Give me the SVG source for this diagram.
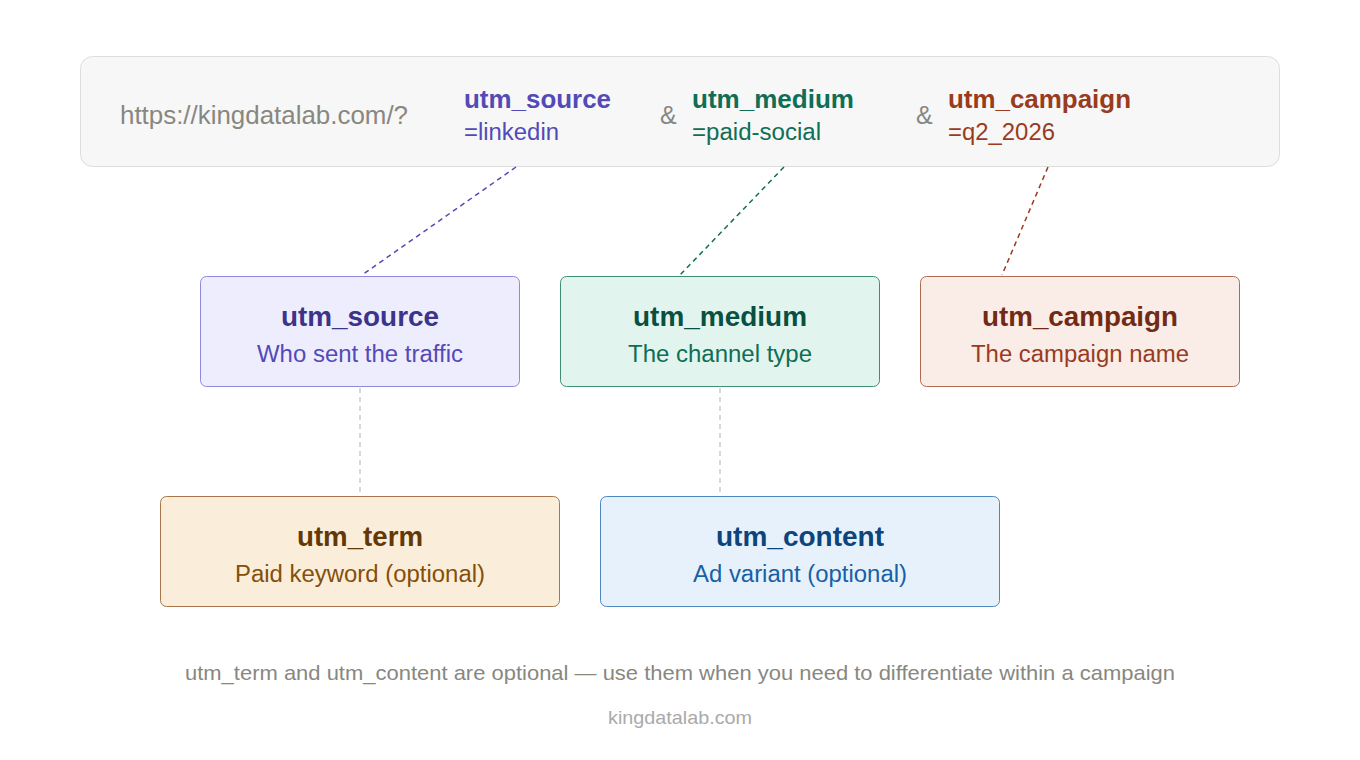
<svg xmlns="http://www.w3.org/2000/svg" width="1360" height="760" viewBox="0 0 1360 760">
<style>
text{font-family:"Liberation Sans",Arial,sans-serif}
.url{font-size:25px;fill:#888780}
.key{font-size:25px;font-weight:bold}
.val{font-size:23px}
.t{font-size:27px;font-weight:bold;text-anchor:middle}
.s{font-size:23px;text-anchor:middle}
.box{stroke-width:1}
.c{fill:none;stroke-width:1.5;stroke-dasharray:5 4}
</style>
<rect width="1360" height="760" fill="#ffffff"/>
<g id="url">
<rect x="80.5" y="56.5" width="1199" height="110" rx="12" fill="#f7f7f7" stroke="#dddddd"/>
<text class="url" x="120" y="124" textLength="288" lengthAdjust="spacingAndGlyphs">https://kingdatalab.com/?</text>
<text class="key" x="464" y="108" fill="#534AB7" textLength="147" lengthAdjust="spacingAndGlyphs">utm_source</text>
<text class="val" x="464" y="140" fill="#534AB7" textLength="95" lengthAdjust="spacingAndGlyphs">=linkedin</text>
<text class="url" x="660" y="124">&amp;</text>
<text class="key" x="692" y="108" fill="#0F6E56" textLength="162" lengthAdjust="spacingAndGlyphs">utm_medium</text>
<text class="val" x="692" y="140" fill="#0F6E56" textLength="129" lengthAdjust="spacingAndGlyphs">=paid-social</text>
<text class="url" x="916" y="124">&amp;</text>
<text class="key" x="948" y="108" fill="#993C1D" textLength="183" lengthAdjust="spacingAndGlyphs">utm_campaign</text>
<text class="val" x="948" y="140" fill="#993C1D" textLength="107" lengthAdjust="spacingAndGlyphs">=q2_2026</text>
</g>
<g id="connectors">
<line class="c" x1="516" y1="167" x2="362" y2="275" stroke="#534AB7"/>
<line class="c" x1="784" y1="167" x2="680" y2="275" stroke="#0F6E56"/>
<line class="c" x1="1048" y1="167" x2="1002" y2="275" stroke="#993C1D"/>
<line class="c" x1="360" y1="388" x2="360" y2="495" stroke="#cccccc"/>
<line class="c" x1="720" y1="388" x2="720" y2="495" stroke="#cccccc"/>
</g>
<g id="utm_source">
<rect class="box" x="200.5" y="276.5" width="319" height="110" rx="6" fill="#EEEDFE" stroke="#8F88DD"/>
<text class="t" x="360" y="326" fill="#3C3489" textLength="158" lengthAdjust="spacingAndGlyphs">utm_source</text>
<text class="s" x="360" y="362" fill="#534AB7" textLength="206" lengthAdjust="spacingAndGlyphs">Who sent the traffic</text>
</g>
<g id="utm_medium">
<rect class="box" x="560.5" y="276.5" width="319" height="110" rx="6" fill="#E1F5EE" stroke="#3F8F76"/>
<text class="t" x="720" y="326" fill="#085041" textLength="174" lengthAdjust="spacingAndGlyphs">utm_medium</text>
<text class="s" x="720" y="362" fill="#0F6E56" textLength="184" lengthAdjust="spacingAndGlyphs">The channel type</text>
</g>
<g id="utm_campaign">
<rect class="box" x="920.5" y="276.5" width="319" height="110" rx="6" fill="#FAECE7" stroke="#B06A50"/>
<text class="t" x="1080" y="326" fill="#712B13" textLength="196" lengthAdjust="spacingAndGlyphs">utm_campaign</text>
<text class="s" x="1080" y="362" fill="#993C1D" textLength="218" lengthAdjust="spacingAndGlyphs">The campaign name</text>
</g>
<g id="utm_term">
<rect class="box" x="160.5" y="496.5" width="399" height="110" rx="6" fill="#FAEEDA" stroke="#A8764A"/>
<text class="t" x="360" y="546" fill="#633806" textLength="126" lengthAdjust="spacingAndGlyphs">utm_term</text>
<text class="s" x="360" y="582" fill="#854F0B" textLength="250" lengthAdjust="spacingAndGlyphs">Paid keyword (optional)</text>
</g>
<g id="utm_content">
<rect class="box" x="600.5" y="496.5" width="399" height="110" rx="6" fill="#E6F1FB" stroke="#4F86BF"/>
<text class="t" x="800" y="546" fill="#0C447C" textLength="168" lengthAdjust="spacingAndGlyphs">utm_content</text>
<text class="s" x="800" y="582" fill="#185FA5" textLength="214" lengthAdjust="spacingAndGlyphs">Ad variant (optional)</text>
</g>
<text x="680" y="680" font-size="21" fill="#888780" text-anchor="middle" textLength="990" lengthAdjust="spacingAndGlyphs">utm_term and utm_content are optional — use them when you need to differentiate within a campaign</text>
<text x="680" y="724" font-size="19" fill="#aaaaaa" text-anchor="middle" textLength="144" lengthAdjust="spacingAndGlyphs">kingdatalab.com</text>
</svg>
